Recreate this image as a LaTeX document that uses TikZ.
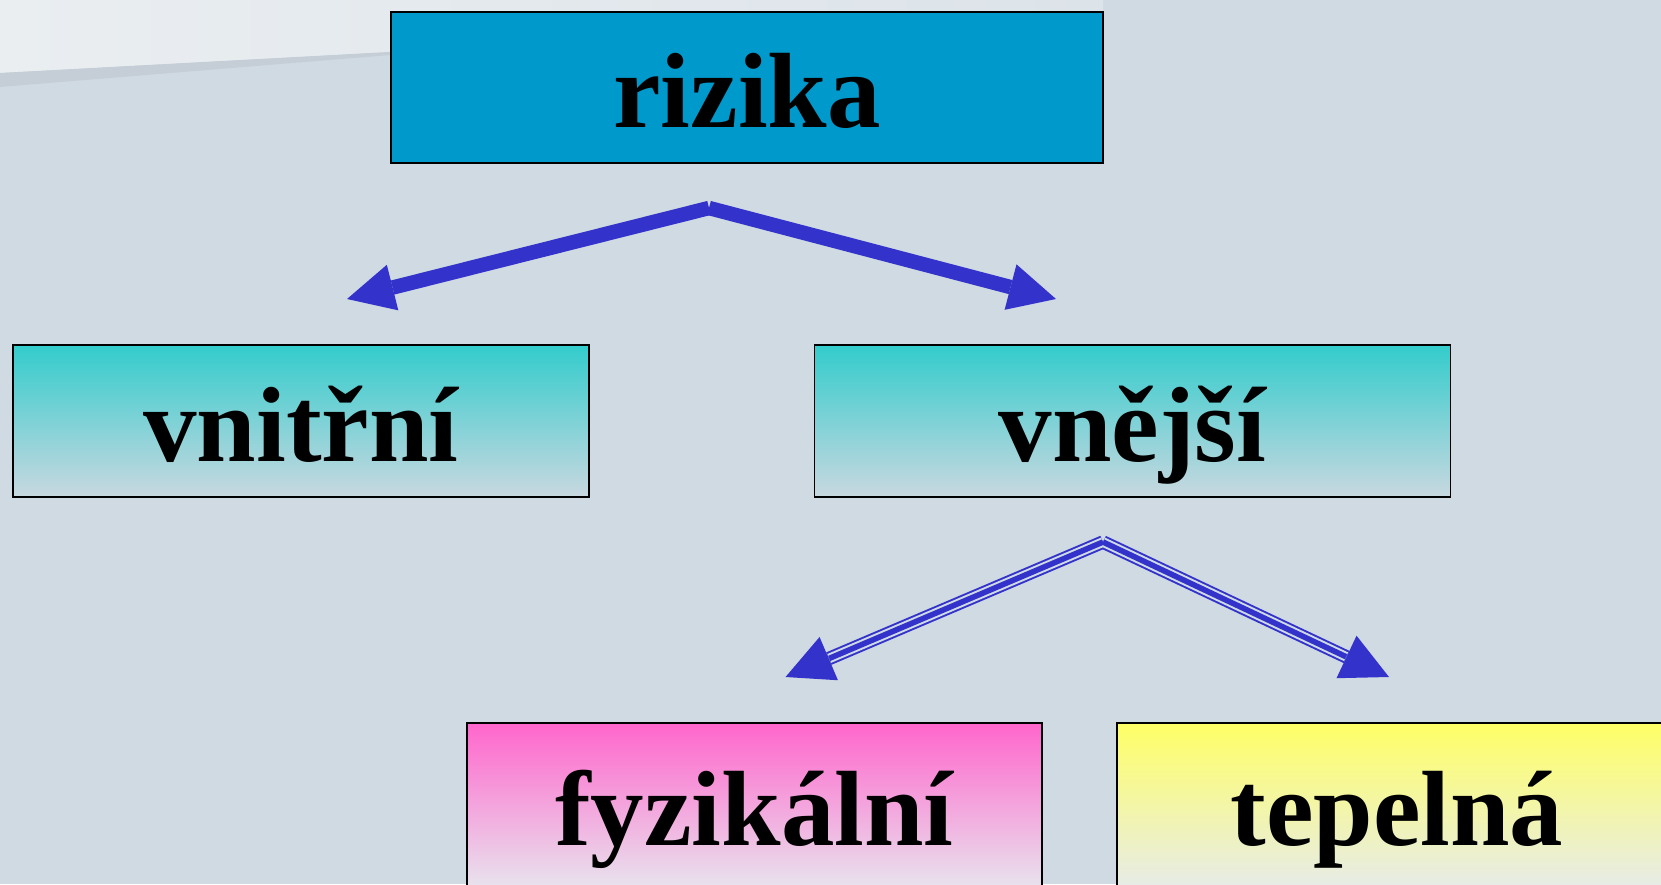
\documentclass[tikz,border=0pt]{standalone}
\usepackage{fontspec}
\setmainfont{Liberation Serif}
\usetikzlibrary{arrows.meta}
\definecolor{bgc}{HTML}{D0DAE2}
\definecolor{lightbgL}{HTML}{EAEEF1}
\definecolor{lightbgR}{HTML}{DCE3E9}
\definecolor{bandc}{HTML}{C5CED7}
\definecolor{boxblue}{HTML}{0099CC}
\definecolor{arrowc}{HTML}{3333CC}
\definecolor{tealtop}{HTML}{33CCCC}
\definecolor{tealbot}{HTML}{C9D8E0}
\definecolor{pinktop}{HTML}{FF66CC}
\definecolor{pinkbot}{HTML}{E7E9EF}
\definecolor{yellowtop}{HTML}{FFFF66}
\definecolor{yellowbot}{HTML}{E6EBEE}
\begin{document}
\begin{tikzpicture}[x=1pt,y=-1pt,
  box/.style={draw=black, line width=1.6pt, inner sep=0pt, text depth=0pt,
    font=\bfseries\fontsize{107pt}{120pt}\selectfont},
  tealbox/.style={box, top color=tealtop, bottom color=tealbot},
  solidarrow/.style={draw=arrowc, line width=14.5pt,
    -{Triangle[length=47pt,width=47pt,line width=0pt]}},
  tripleout/.style={draw=arrowc, line width=13.5pt,
    -{Triangle[length=47pt,width=47pt,line width=0pt]}},
  triplegap/.style={draw=bgc, line width=9.6pt, shorten >=47.5pt},
  triplemid/.style={draw=arrowc, line width=5.6pt, shorten >=47.5pt}
]
\useasboundingbox (0,0) rectangle (1661,884);
\clip (0,0) rectangle (1661,884);
% background
\fill[bgc] (0,0) rectangle (1661,884);
\shade[left color=lightbgL, right color=lightbgR] (0,0) -- (1103,0) -- (1103,14) -- (0,73) -- cycle;
\fill[bandc] (0,73) -- (500,46) -- (0,87) -- cycle;

% boxes
\node[box, fill=boxblue, minimum width=712pt, minimum height=151pt, text height=79pt]
  (rizika) at (747,87.5) {rizika};
\node[tealbox, minimum width=576pt, minimum height=152pt, text height=80pt]
  (vnitrni) at (301,421) {vnitřní};
\node[tealbox, minimum width=636pt, minimum height=152pt, text height=80pt]
  (vnejsi) at (1132.5,421) {vnější};
\node[box, top color=pinktop, bottom color=pinkbot, minimum width=575pt, minimum height=172pt, text height=72pt]
  (fyzikalni) at (754.5,809) {fyzikální};
\node[box, top color=yellowtop, bottom color=yellowbot, minimum width=560pt, minimum height=172pt, text height=72pt]
  (tepelna) at (1397,809) {tepelná};

% arrow coordinates
\coordinate (apexA) at (709,208);
\coordinate (tipL) at (347,299);
\coordinate (tipR) at (1056,299);
\coordinate (apexB) at (1103,542);
\coordinate (tipFyz) at (785.5,677);
\coordinate (tipTep) at (1389,677);

% upper arrows
\draw[solidarrow] (apexA) -- (tipL);
\draw[solidarrow] (apexA) -- (tipR);

% lower triple arrows
\draw[tripleout] (apexB) -- (tipFyz);
\draw[tripleout] (apexB) -- (tipTep);
\draw[triplegap] (apexB) -- (tipFyz);
\draw[triplegap] (apexB) -- (tipTep);
\draw[triplemid] (apexB) -- (tipFyz);
\draw[triplemid] (apexB) -- (tipTep);
\end{tikzpicture}
\end{document}
